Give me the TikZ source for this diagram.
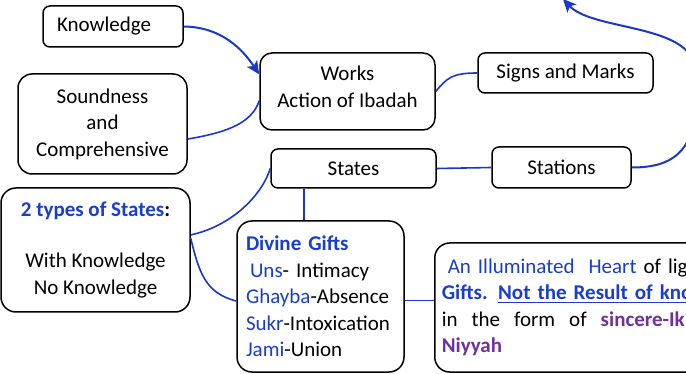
\documentclass[tikz,border=0pt]{standalone}
\usepackage{fontspec}
\setmainfont{Carlito}
\usetikzlibrary{arrows.meta,calc}
\definecolor{tblue}{RGB}{25,60,210}
\definecolor{lblue}{RGB}{25,55,205}
\definecolor{purp}{RGB}{112,48,160}
\newcommand\ulx[1]{\setbox0\hbox{#1}\rlap{\rule[-3.5pt]{\wd0}{1.6pt}}\box0}
\begin{document}
\begin{tikzpicture}[x=1pt,y=-1pt,
  box/.style={draw=black,line width=1.5pt,rounded corners=#1,font=\fontsize{21}{26.5}\selectfont,inner sep=0pt,align=center},
  box/.default=7pt,
  conn/.style={draw=lblue,line width=1.6pt},
  arr/.style={draw=lblue,line width=2pt,-{Stealth[length=13pt,width=12pt,inset=3pt]}}]
\useasboundingbox (0,0) rectangle (686,374);
\clip (0,0) rectangle (686,374);

\node[box, minimum width=140pt, minimum height=41pt, text width=112pt, align=left] (know) at (113,26.5) {Knowledge};
\node[box=14pt, minimum width=169pt, minimum height=100pt] (sound) at (102.5,124) {Soundness\\and\\Comprehensive};
\node[box=12pt, minimum width=175pt, minimum height=77pt] (works) at (347.5,91.5) {Works\\Action of Ibadah\rule[-10pt]{0pt}{0pt}};
\node[box, minimum width=175pt, minimum height=40pt] (signs) at (565.5,73) {Signs and Marks};
\node[box, minimum width=165pt, minimum height=39pt] (states) at (353.5,168.5) {States};
\node[box, minimum width=139pt, minimum height=41pt] (stations) at (561.5,167.5) {Stations};
\node[box=15pt, minimum width=189pt, minimum height=124pt] (types) at (95.5,250) {\textbf{\color{tblue}2 types of States}\textbf{:}\\[25pt]With Knowledge\\No Knowledge\rule[-4pt]{0pt}{0pt}};
\node[box=15pt, minimum width=167pt, minimum height=151pt, text width=149pt, align=left] (gifts) at (320.5,296.5) {\textbf{\color{tblue}Divine Gifts}\\\hspace*{4pt}{\color{tblue}Uns}- Intimacy\\{\color{tblue}Ghayba}-Absence\\{\color{tblue}Sukr}-Intoxication\\{\color{tblue}Jami}-Union};
\node[box=15pt, minimum width=440pt, minimum height=129pt, text width=426pt, align=left, anchor=west] (illum) at (434,307.5) {\hspace*{6pt}{\color{tblue}An Illuminated\ \ Heart} of light\\{\color{tblue}\textbf{Gifts.} \ulx{\textbf{Not the Result of knowledge}}}\\in\hspace{14pt}the\hspace{14pt}form\hspace{14pt}of\hspace{14pt}{\color{purp}\textbf{sincere-Ikhlas}}\\{\color{purp}\textbf{Niyyah}}};

\coordinate (top) at (563,-1);
\draw[arr] (know.east) .. controls (222,27) and (243,50) .. (works.169);
\draw[conn] (sound.-10) .. controls (230,132) and (252,122) .. (works.186);
\draw[conn] (works.east) .. controls (447,78) and (452,73) .. (signs.west);
\draw[conn] (states.west) .. controls (262,195) and (232,226) .. (types.9);
\draw[conn] ([xshift=-49.5pt]states.south) -- ([xshift=-49.5pt]states.south |- gifts.north);
\draw[conn] (states.east) -- (stations.west);
\draw[conn] (types.7) .. controls (199,272) and (205,293) .. ([yshift=-4.5pt]gifts.west);
\draw[conn] ([yshift=-4pt]gifts.east) -- ([yshift=-4pt]gifts.east -| illum.west);
\draw[arr] (stations.east) .. controls (675,167.5) and (690,150) .. (698,110) .. controls (703,85) and (700,70) .. (690,55) .. controls (670,25) and (590,28) .. (top);
\end{tikzpicture}
\end{document}
